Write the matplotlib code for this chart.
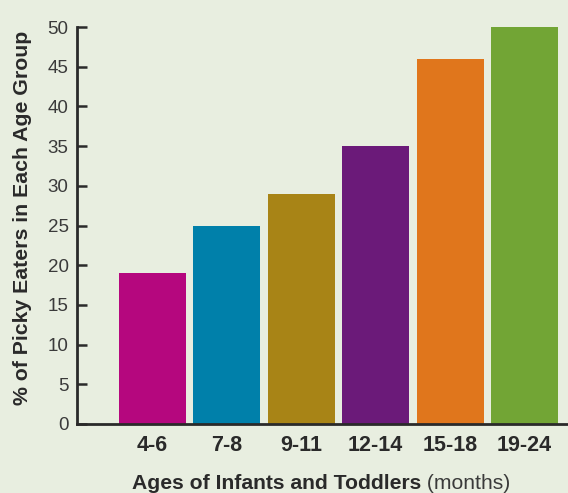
import numpy as np
import matplotlib.pyplot as plt

# share of picky eaters by age group
age_groups = ['4-6', '7-8', '9-11', '12-14', '15-18', '19-24']
picky_pct = [19, 25, 29, 35, 46, 50]
bar_colors = ['#b5077e', '#0080aa', '#a88416', '#6b1a79', '#e0761c', '#72a535']
yticks = [0, 5, 10, 15, 20, 25, 30, 35, 40, 45, 50]

bg = '#e8eee0'
plt.rcParams['font.family'] = ['Liberation Sans', 'DejaVu Sans']

fig = plt.figure(figsize=(5.68, 4.93), dpi=100, facecolor=bg)
ax = fig.add_axes([77/568, 69/493, 491/568, 397/493], facecolor=bg)

x = np.arange(len(age_groups))
ax.bar(x, picky_pct, width=0.9, color=bar_colors, zorder=1)

ax.set_xlim(-1.015, 5.585)
ax.set_ylim(0, 50)
ax.set_xticks(x)
ax.set_xticklabels(age_groups, fontsize=15.5, fontweight='bold', color='#2a2a2a')
ax.set_yticks(yticks)
ax.set_yticklabels([str(v) for v in yticks], fontsize=13.5, color='#3a3a3a')

for s in ['top', 'right']:
    ax.spines[s].set_visible(False)
for s in ['left', 'bottom']:
    ax.spines[s].set_color('#2a2a2a')
    ax.spines[s].set_linewidth(2)
    ax.spines[s].set_zorder(3)

ax.tick_params(axis='y', direction='in', length=7, width=1.8, color='#2a2a2a', pad=6)
ax.tick_params(axis='x', length=0, pad=8)

ax.set_ylabel('% of Picky Eaters in Each Age Group', fontsize=15.3,
              fontweight='bold', color='#2a2a2a', va='center')
ax.yaxis.set_label_coords(-0.112, 0.52)

lbl = fig.text(0.232, 0.008, 'Ages of Infants and Toddlers', fontsize=15.2,
               fontweight='bold', color='#2a2a2a', ha='left', va='baseline')
ax.annotate(' (months)', xy=(1, 0), xycoords=lbl, va='bottom', ha='left',
            fontsize=15.2, color='#3a3a3a')

fig.savefig('out.png', dpi=100, facecolor=bg)
